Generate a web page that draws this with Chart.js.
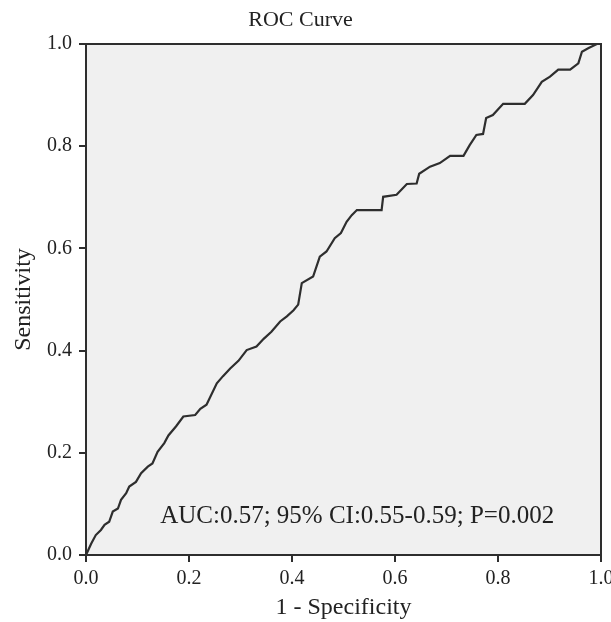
<!DOCTYPE html>
<html><head><meta charset="utf-8">
<script src="https://cdn.jsdelivr.net/npm/chart.js@4/dist/chart.umd.min.js"></script>
<style>html,body{margin:0;padding:0;background:#fff}#wrap{width:611px;height:622px}</style>
</head><body><div id="wrap"><canvas id="c" width="611" height="622"></canvas></div>
<script>
const chartTitle = 'ROC Curve';
const xTitle = '1 - Specificity';
const yTitle = 'Sensitivity';
const annotationText = 'AUC:0.57; 95% CI:0.55-0.59; P=0.002';
const tickValues = [0, 0.2, 0.4, 0.6, 0.8, 1.0];
const fpr = [0, 0.010, 0.019, 0.029, 0.036, 0.045, 0.052, 0.062, 0.068, 0.078, 0.084, 0.097, 0.107, 0.120, 0.129, 0.139, 0.152, 0.160, 0.175, 0.189, 0.212, 0.222, 0.234, 0.254, 0.266, 0.280, 0.296, 0.312, 0.331, 0.345, 0.360, 0.377, 0.390, 0.403, 0.412, 0.419, 0.441, 0.454, 0.467, 0.483, 0.495, 0.506, 0.516, 0.526, 0.574, 0.577, 0.603, 0.623, 0.642, 0.647, 0.668, 0.687, 0.707, 0.733, 0.745, 0.758, 0.771, 0.777, 0.790, 0.810, 0.852, 0.868, 0.885, 0.901, 0.917, 0.940, 0.956, 0.963, 0.976, 0.992, 1.0];
const tpr = [0, 0.022, 0.039, 0.049, 0.059, 0.065, 0.085, 0.091, 0.108, 0.121, 0.134, 0.143, 0.160, 0.173, 0.179, 0.202, 0.219, 0.234, 0.252, 0.271, 0.274, 0.286, 0.294, 0.336, 0.350, 0.365, 0.380, 0.401, 0.408, 0.423, 0.437, 0.457, 0.467, 0.479, 0.490, 0.532, 0.545, 0.584, 0.594, 0.620, 0.630, 0.652, 0.665, 0.675, 0.675, 0.701, 0.705, 0.726, 0.727, 0.746, 0.760, 0.767, 0.781, 0.781, 0.802, 0.822, 0.824, 0.855, 0.861, 0.883, 0.883, 0.900, 0.926, 0.936, 0.950, 0.950, 0.962, 0.985, 0.992, 1.0, 1.0];

const FONT = '"Liberation Serif", "Times New Roman", serif';
const INK = '#222';
const LINE = '#2e2e2e';

const framePlugin = {
  id: 'frame',
  beforeDatasetsDraw(chart) {
    const {ctx, chartArea: a} = chart;
    ctx.save();
    ctx.fillStyle = '#f0f0f0';
    ctx.fillRect(a.left, a.top, a.right - a.left, a.bottom - a.top);
    ctx.restore();
  },
  afterDraw(chart, args, opts) {
    const {ctx, chartArea: a, scales} = chart;
    ctx.save();
    ctx.strokeStyle = LINE;
    ctx.lineWidth = 2;
    ctx.strokeRect(a.left, a.top, a.right - a.left, a.bottom - a.top);
    ctx.fillStyle = INK;
    ctx.font = '25px ' + FONT;
    ctx.textAlign = 'left';
    ctx.textBaseline = 'middle';
    ctx.fillText(opts.text, scales.x.getPixelForValue(opts.x), scales.y.getPixelForValue(opts.y));
    ctx.restore();
  }
};

new Chart(document.getElementById('c'), {
  type: 'line',
  data: {
    datasets: [{
      data: fpr.map((v, i) => ({x: v, y: tpr[i]})),
      borderColor: LINE,
      borderWidth: 2.2,
      pointRadius: 0,
      tension: 0,
      fill: false,
      clip: 3
    }]
  },
  options: {
    responsive: false,
    animation: false,
    devicePixelRatio: 1,
    layout: {padding: {top: 0, right: 10, bottom: 0, left: 0}},
    plugins: {
      legend: {display: false},
      tooltip: {enabled: false},
      title: {
        display: true, text: chartTitle, color: INK,
        font: {family: FONT, size: 22, weight: 'normal', lineHeight: 1.2},
        padding: {top: 7, bottom: 10.6}
      },
      frame: {text: annotationText, x: 0.144, y: 0.075}
    },
    scales: {
      x: {
        type: 'linear', min: 0, max: 1,
        afterBuildTicks: s => { s.ticks = tickValues.map(v => ({value: v})); },
        afterFit: s => { s.height = 67; s.paddingLeft = 0; s.paddingRight = 0; },
        grid: {display: true, drawOnChartArea: false, drawTicks: true, tickLength: 7, color: LINE, lineWidth: 2},
        border: {display: true, color: LINE, width: 2},
        ticks: {color: INK, font: {family: FONT, size: 20}, padding: 5, maxRotation: 0, autoSkip: false,
                callback: v => Number(v).toFixed(1)},
        title: {display: true, text: xTitle, color: INK, font: {family: FONT, size: 24, lineHeight: 1.2}, padding: {top: 0, bottom: 0}}
      },
      y: {
        type: 'linear', min: 0, max: 1,
        afterBuildTicks: s => { s.ticks = tickValues.map(v => ({value: v})); },
        afterFit: s => { s.width = 86; s.paddingTop = 0; s.paddingBottom = 0; },
        grid: {display: true, drawOnChartArea: false, drawTicks: true, tickLength: 7, color: LINE, lineWidth: 2},
        border: {display: true, color: LINE, width: 2},
        ticks: {color: INK, font: {family: FONT, size: 20}, padding: 7, autoSkip: false,
                callback: v => Number(v).toFixed(1)},
        title: {display: true, text: yTitle, color: INK, font: {family: FONT, size: 24, lineHeight: 1.2}, padding: {top: 9, bottom: 0}}
      }
    }
  },
  plugins: [framePlugin]
});
</script>
</body></html>
